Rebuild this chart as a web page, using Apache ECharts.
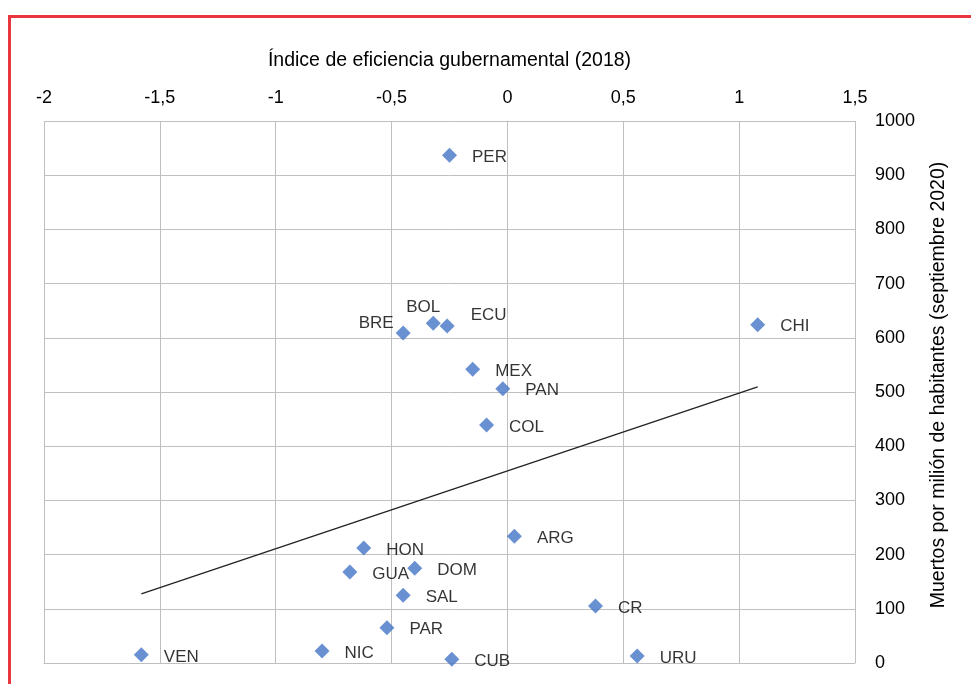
<!DOCTYPE html>
<html>
<head>
<meta charset="utf-8">
<script src="https://cdn.jsdelivr.net/npm/echarts@6/dist/echarts.min.js"></script>
<style>
html,body{margin:0;padding:0;background:#fff;}
#chart{width:971px;height:684px;}
</style>
</head>
<body>
<div id="chart"></div>
<script>
// ---- data ----
const countries = ['PER','BOL','ECU','BRE','CHI','MEX','PAN','COL','ARG','HON','DOM','GUA','SAL','CR','PAR','VEN','NIC','CUB','URU'];
const efficiency = [-0.25,-0.32,-0.26,-0.45,1.08,-0.15,-0.02,-0.09,0.03,-0.62,-0.40,-0.68,-0.45,0.38,-0.52,-1.58,-0.80,-0.24,0.56];
const deaths = [937,627,622,609,624,542,506,439,234,212,175,168,125,105,65,15,22,7,13];
const xTitle = 'Índice de eficiencia gubernamental (2018)';
const yTitle = 'Muertos por milión de habitantes (septiembre 2020)';

// ---- label placement overrides (style only) ----
const labelStyle = {
  BOL: {position:'top', distance:0, offset:[-10,0]},
  BRE: {position:'left', distance:2, offset:[0,-10]},
  ECU: {position:'right', distance:16, offset:[0,-11]}
};

// linear regression trend line computed from the data
const n = efficiency.length;
const mx = efficiency.reduce((a,b)=>a+b,0)/n;
const my = deaths.reduce((a,b)=>a+b,0)/n;
let sxy=0, sxx=0;
for (let i=0;i<n;i++){ sxy+=(efficiency[i]-mx)*(deaths[i]-my); sxx+=(efficiency[i]-mx)**2; }
const slope = sxy/sxx, icpt = my - slope*mx;
const xMin = Math.min(...efficiency), xMax = Math.max(...efficiency);
const trend = [[xMin, icpt+slope*xMin],[xMax, icpt+slope*xMax]];

const pts = countries.map((c,i)=>{
  const o = {name:c, value:[efficiency[i], deaths[i]]};
  if (labelStyle[c]) o.label = labelStyle[c];
  return o;
});

const FONT = '"Liberation Sans", Arial, sans-serif';
const chart = echarts.init(document.getElementById('chart'), null, {renderer:'canvas'});
chart.setOption({
  animation:false,
  backgroundColor:'#fff',
  textStyle:{fontFamily:FONT},
  graphic:[{
    type:'rect', silent:true, z:100,
    shape:{x:9.5, y:16.5, width:1200, height:1000},
    style:{fill:'none', stroke:'#e8373f', lineWidth:3}
  }],
  grid:{left:44, right:116, top:121, bottom:21},
  xAxis:{
    type:'value', position:'top', min:-2, max:1.5, interval:0.5,
    name:xTitle, nameLocation:'middle', nameGap:50,
    nameTextStyle:{fontSize:19.5, color:'#000', fontFamily:FONT},
    axisLine:{show:true, lineStyle:{color:'#bfbfbf'}},
    axisTick:{show:true, length:6, lineStyle:{color:'#bfbfbf'}},
    axisLabel:{fontSize:18, color:'#000', margin:14, formatter:v=>String(v).replace('.',',')},
    splitLine:{show:true, lineStyle:{color:'#bfbfbf', width:1}}
  },
  yAxis:{
    type:'value', position:'right', min:0, max:1000, interval:100,
    name:yTitle, nameLocation:'middle', nameGap:74, nameRotate:90,
    nameTextStyle:{fontSize:19.5, color:'#000', fontFamily:FONT, padding:[0,0,0,14]},
    axisLine:{show:true, lineStyle:{color:'#bfbfbf'}},
    axisTick:{show:true, length:7, lineStyle:{color:'#bfbfbf'}},
    axisLabel:{fontSize:18, color:'#000', margin:20, formatter:v=>String(v)},
    splitLine:{show:true, lineStyle:{color:'#bfbfbf', width:1}}
  },
  series:[
    {
      type:'line', data:trend, symbol:'none', silent:true,
      lineStyle:{color:'#222', width:1.3}, z:1
    },
    {
      type:'scatter', data:pts, symbol:'diamond', symbolSize:[15,15],
      itemStyle:{color:'#4376c6'}, z:3,
      label:{show:true, position:'right', distance:15, offset:[0,2],
        formatter:p=>p.name, fontSize:17, color:'#000', fontFamily:FONT}
    }
  ]
});
</script>
</body>
</html>
